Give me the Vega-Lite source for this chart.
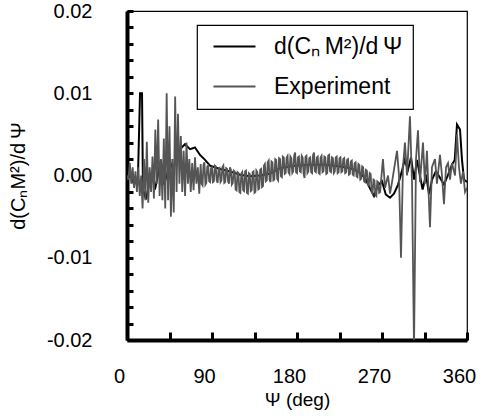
{
  "$schema": "https://vega.github.io/schema/vega-lite/v6.json",
  "width": 340,
  "height": 329,
  "autosize": "none",
  "padding": {"left": 127, "top": 11, "right": 19, "bottom": 76},
  "background": "white",
  "config": {
    "font": "Liberation Sans",
    "view": {"stroke": "black", "strokeWidth": 1.2},
    "axis": {"grid": false, "domainColor": "black", "tickColor": "black", "labelColor": "black", "titleColor": "black", "labelFont": "Liberation Sans", "titleFont": "Liberation Sans", "titleFontWeight": "normal", "labelFlush": false}
  },
  "datasets": {
    "M": [
      {"x": 0, "y": -0.0005}, {"x": 3.2, "y": 0.0005}, {"x": 7.4, "y": -0.0011}, {"x": 11.6, "y": -0.0002},
      {"x": 13.8, "y": 0.0100}, {"x": 15.9, "y": 0.0100}, {"x": 16.9, "y": -0.0017}, {"x": 20.1, "y": -0.0029},
      {"x": 23.3, "y": -0.0011}, {"x": 26.5, "y": 0.0005}, {"x": 29.6, "y": -0.0017}, {"x": 32.8, "y": 0.0001},
      {"x": 36, "y": 0.0019}, {"x": 39.2, "y": -0.0011}, {"x": 42.4, "y": 0.0001}, {"x": 45.5, "y": 0.0017},
      {"x": 48.7, "y": 0.0007}, {"x": 51.9, "y": 0.0019}, {"x": 56.1, "y": 0.0032}, {"x": 61.4, "y": 0.0038},
      {"x": 66.7, "y": 0.0032}, {"x": 72, "y": 0.0034}, {"x": 77.3, "y": 0.0025}, {"x": 82.6, "y": 0.0019},
      {"x": 87.9, "y": 0.0012}, {"x": 98.5, "y": 0.0008}, {"x": 109, "y": 0.0005}, {"x": 119.6, "y": 0.0001},
      {"x": 130, "y": -0.0001}, {"x": 141, "y": 0.0}, {"x": 151, "y": 0.0002}, {"x": 162, "y": 0.0009},
      {"x": 178, "y": 0.0012}, {"x": 194, "y": 0.0013}, {"x": 210, "y": 0.0013}, {"x": 225.5, "y": 0.0011},
      {"x": 236, "y": 0.0009}, {"x": 244.6, "y": 0.0005}, {"x": 252, "y": -0.0003}, {"x": 257, "y": -0.0015},
      {"x": 261.5, "y": -0.0025}, {"x": 265.8, "y": -0.0012}, {"x": 270, "y": -0.0007}, {"x": 274, "y": -0.0023},
      {"x": 278.5, "y": -0.0027}, {"x": 282.7, "y": -0.0022}, {"x": 287, "y": -0.0011}, {"x": 291, "y": 0.0005},
      {"x": 294, "y": 0.0019}, {"x": 297.5, "y": 0.0007}, {"x": 300.7, "y": 0.0022}, {"x": 304, "y": -0.0005},
      {"x": 307, "y": 0.0019}, {"x": 310, "y": 0.0001}, {"x": 313, "y": -0.0017}, {"x": 316.6, "y": 0.0001},
      {"x": 319.8, "y": -0.0023}, {"x": 323, "y": -0.0005}, {"x": 327, "y": 0.0005}, {"x": 331, "y": -0.0002},
      {"x": 335.6, "y": -0.0011}, {"x": 340, "y": 0.0001}, {"x": 344, "y": 0.0013}, {"x": 347, "y": 0.0019},
      {"x": 349.4, "y": 0.0062}, {"x": 352.6, "y": 0.0056}, {"x": 354.7, "y": 0.0019}, {"x": 356.8, "y": -0.0005},
      {"x": 360, "y": -0.0008}
    ],
    "E": [
      {"x": 0, "y": 0.0}, {"x": 1.5, "y": -0.0005}, {"x": 3, "y": 0.0015}, {"x": 4.5, "y": -0.001},
      {"x": 6, "y": 0.001}, {"x": 7.5, "y": -0.0015}, {"x": 9, "y": 0.0005}, {"x": 10.5, "y": -0.002},
      {"x": 12, "y": 0.001}, {"x": 13.5, "y": -0.0025}, {"x": 15, "y": 0.0}, {"x": 16.5, "y": -0.004},
      {"x": 18, "y": 0.002}, {"x": 19.5, "y": -0.003}, {"x": 21, "y": 0.0041}, {"x": 22.5, "y": -0.0033},
      {"x": 24, "y": 0.001}, {"x": 25.5, "y": -0.002}, {"x": 27, "y": 0.0023}, {"x": 28.5, "y": -0.0028},
      {"x": 30, "y": 0.0056}, {"x": 31.5, "y": -0.001}, {"x": 33, "y": 0.0068}, {"x": 34.5, "y": -0.0025},
      {"x": 36, "y": 0.002}, {"x": 37.5, "y": -0.003}, {"x": 39, "y": 0.0045}, {"x": 40.5, "y": -0.004},
      {"x": 42, "y": 0.010}, {"x": 43.5, "y": -0.003}, {"x": 45, "y": 0.006}, {"x": 46.5, "y": -0.005},
      {"x": 48, "y": 0.002}, {"x": 49.5, "y": -0.0045}, {"x": 51, "y": 0.0096}, {"x": 52.5, "y": -0.002},
      {"x": 54, "y": 0.0075}, {"x": 55.5, "y": -0.001}, {"x": 57, "y": 0.0048}, {"x": 58.5, "y": -0.002},
      {"x": 60, "y": 0.003}, {"x": 61.5, "y": -0.0025}, {"x": 63, "y": 0.004}, {"x": 64.5, "y": -0.001},
      {"x": 66, "y": 0.002}, {"x": 67.5, "y": -0.002}, {"x": 69, "y": 0.0015}, {"x": 70.5, "y": -0.0018},
      {"x": 72, "y": 0.0022}, {"x": 73.5, "y": -0.001}, {"x": 75, "y": 0.001}, {"x": 76.5, "y": -0.0022},
      {"x": 78, "y": 0.0014}, {"x": 79, "y": -0.0010}, {"x": 80, "y": -0.0012}, {"x": 81, "y": 0.0013},
      {"x": 82, "y": 0.0016}, {"x": 83, "y": -0.0011}, {"x": 84, "y": -0.0009}, {"x": 85, "y": 0.0011},
      {"x": 86, "y": 0.0012}, {"x": 87, "y": -0.0007}, {"x": 88, "y": -0.0008}, {"x": 89, "y": 0.0009},
      {"x": 90, "y": 0.0010}, {"x": 91, "y": -0.0008}, {"x": 92, "y": -0.0007}, {"x": 93, "y": 0.0012},
      {"x": 94, "y": 0.0011}, {"x": 95, "y": -0.0006}, {"x": 96, "y": -0.0009}, {"x": 97, "y": 0.0008},
      {"x": 98, "y": 0.0009}, {"x": 99, "y": -0.0008}, {"x": 100, "y": -0.0006}, {"x": 101, "y": 0.0010},
      {"x": 102, "y": 0.0012}, {"x": 103, "y": -0.0009}, {"x": 104, "y": -0.0008}, {"x": 105, "y": 0.0009},
      {"x": 106, "y": 0.0008}, {"x": 107, "y": -0.0007}, {"x": 108, "y": -0.0010}, {"x": 109, "y": 0.0010},
      {"x": 110, "y": 0.0007}, {"x": 111, "y": -0.0011}, {"x": 112, "y": -0.0009}, {"x": 113, "y": 0.0006},
      {"x": 114, "y": 0.0005}, {"x": 115, "y": -0.0017}, {"x": 116, "y": -0.0018}, {"x": 117, "y": 0.0004},
      {"x": 118, "y": 0.0003}, {"x": 119, "y": -0.0020}, {"x": 120, "y": -0.0021}, {"x": 121, "y": 0.0002},
      {"x": 122, "y": 0.0004}, {"x": 123, "y": -0.0018}, {"x": 124, "y": -0.0019}, {"x": 125, "y": 0.0005},
      {"x": 126, "y": 0.0006}, {"x": 127, "y": -0.0021}, {"x": 128, "y": -0.0022}, {"x": 129, "y": 0.0003},
      {"x": 130, "y": 0.0002}, {"x": 131, "y": -0.0019}, {"x": 132, "y": -0.0018}, {"x": 133, "y": 0.0004},
      {"x": 134, "y": 0.0005}, {"x": 135, "y": -0.0021}, {"x": 136, "y": -0.0020}, {"x": 137, "y": 0.0006},
      {"x": 138, "y": 0.0004}, {"x": 139, "y": -0.0017}, {"x": 140, "y": -0.0016}, {"x": 141, "y": 0.0007},
      {"x": 142, "y": 0.0008}, {"x": 143, "y": -0.0014}, {"x": 144, "y": -0.0013}, {"x": 145, "y": 0.0012},
      {"x": 146, "y": 0.0014}, {"x": 147, "y": -0.0007}, {"x": 148, "y": -0.0006}, {"x": 149, "y": 0.0016},
      {"x": 150, "y": 0.0018}, {"x": 151, "y": -0.0005}, {"x": 152, "y": -0.0008}, {"x": 153, "y": 0.0017},
      {"x": 154, "y": 0.0016}, {"x": 155, "y": -0.0006}, {"x": 156, "y": -0.0005}, {"x": 157, "y": 0.0020},
      {"x": 158, "y": 0.0019}, {"x": 159, "y": -0.0004}, {"x": 160, "y": -0.0006}, {"x": 161, "y": 0.0021},
      {"x": 162, "y": 0.0020}, {"x": 163, "y": -0.0001}, {"x": 164, "y": -0.0002}, {"x": 165, "y": 0.0023},
      {"x": 166, "y": 0.0022}, {"x": 167, "y": 0.0002}, {"x": 168, "y": 0.0003}, {"x": 169, "y": 0.0022},
      {"x": 170, "y": 0.0024}, {"x": 171, "y": 0.0004}, {"x": 172, "y": 0.0002}, {"x": 173, "y": 0.0023},
      {"x": 174, "y": 0.0021}, {"x": 175, "y": 0.0003}, {"x": 176, "y": 0.0005}, {"x": 177, "y": 0.0024},
      {"x": 178, "y": 0.0028}, {"x": 179, "y": 0.0004}, {"x": 180, "y": 0.0003}, {"x": 181, "y": 0.0022},
      {"x": 182, "y": 0.0023}, {"x": 183, "y": 0.0005}, {"x": 184, "y": 0.0004}, {"x": 185, "y": 0.0024},
      {"x": 186, "y": 0.0022}, {"x": 187, "y": 0.0002}, {"x": 188, "y": -0.0003}, {"x": 189, "y": 0.0023},
      {"x": 190, "y": 0.0024}, {"x": 191, "y": 0.0003}, {"x": 192, "y": 0.0005}, {"x": 193, "y": 0.0021},
      {"x": 194, "y": 0.0022}, {"x": 195, "y": 0.0004}, {"x": 196, "y": 0.0003}, {"x": 197, "y": 0.0025},
      {"x": 198, "y": 0.0028}, {"x": 199, "y": 0.0005}, {"x": 200, "y": 0.0004}, {"x": 201, "y": 0.0022},
      {"x": 202, "y": 0.0023}, {"x": 203, "y": 0.0003}, {"x": 204, "y": 0.0002}, {"x": 205, "y": 0.0022},
      {"x": 206, "y": 0.0024}, {"x": 207, "y": 0.0004}, {"x": 208, "y": 0.0005}, {"x": 209, "y": 0.0023},
      {"x": 210, "y": 0.0022}, {"x": 211, "y": 0.0002}, {"x": 212, "y": 0.0003}, {"x": 213, "y": 0.0024},
      {"x": 214, "y": 0.0025}, {"x": 215, "y": 0.0005}, {"x": 216, "y": 0.0004}, {"x": 217, "y": 0.0022},
      {"x": 218, "y": 0.0021}, {"x": 219, "y": 0.0003}, {"x": 220, "y": 0.0005}, {"x": 221, "y": 0.0022},
      {"x": 222, "y": 0.0023}, {"x": 223, "y": 0.0003}, {"x": 224, "y": 0.0004}, {"x": 225, "y": 0.0021},
      {"x": 226, "y": 0.0022}, {"x": 227, "y": 0.0004}, {"x": 228, "y": 0.0005}, {"x": 229, "y": 0.0020},
      {"x": 230, "y": 0.0021}, {"x": 231, "y": 0.0003}, {"x": 232, "y": 0.0004}, {"x": 233, "y": 0.0019},
      {"x": 234, "y": 0.0020}, {"x": 235, "y": 0.0001}, {"x": 236, "y": 0.0002}, {"x": 237, "y": 0.0017},
      {"x": 238, "y": 0.0018}, {"x": 239, "y": 0.0001}, {"x": 240, "y": 0.0000}, {"x": 241, "y": 0.0015},
      {"x": 242, "y": 0.0016}, {"x": 243, "y": -0.0001}, {"x": 244, "y": -0.0002}, {"x": 245, "y": 0.0014},
      {"x": 246, "y": 0.0013}, {"x": 247, "y": -0.0005}, {"x": 248, "y": -0.0004}, {"x": 249, "y": 0.0011},
      {"x": 250, "y": 0.0010}, {"x": 251, "y": -0.0007}, {"x": 252, "y": -0.0008}, {"x": 253, "y": 0.0007},
      {"x": 254, "y": 0.0006}, {"x": 255, "y": -0.0011}, {"x": 256, "y": -0.0012}, {"x": 257, "y": 0.0003},
      {"x": 258, "y": 0.0002}, {"x": 259, "y": -0.0020}, {"x": 260, "y": -0.0022}, {"x": 261, "y": -0.0005},
      {"x": 262, "y": -0.0006}, {"x": 263, "y": -0.0024}, {"x": 264, "y": -0.0025}, {"x": 265, "y": -0.0007},
      {"x": 266, "y": -0.0008}, {"x": 267, "y": -0.0021}, {"x": 268, "y": -0.0020},
      {"x": 271, "y": 0.0020}, {"x": 273.2, "y": -0.0015}, {"x": 276.4, "y": 0.0}, {"x": 278.5, "y": -0.0022},
      {"x": 280.6, "y": -0.0008}, {"x": 283.8, "y": 0.0015}, {"x": 285.9, "y": 0.0030}, {"x": 288, "y": 0.0},
      {"x": 290.1, "y": -0.0100}, {"x": 292.2, "y": 0.0010}, {"x": 294.3, "y": 0.0040}, {"x": 296.5, "y": 0.0},
      {"x": 299.6, "y": 0.0072}, {"x": 301.8, "y": -0.0010}, {"x": 303.9, "y": -0.0210}, {"x": 306, "y": 0.0020},
      {"x": 308.1, "y": 0.0055}, {"x": 310.2, "y": -0.0008}, {"x": 313.4, "y": 0.0040}, {"x": 315.5, "y": -0.0010},
      {"x": 317.6, "y": 0.0030}, {"x": 320.8, "y": -0.0063}, {"x": 322.9, "y": 0.0010}, {"x": 326.1, "y": 0.0020},
      {"x": 328.2, "y": -0.0010}, {"x": 331.4, "y": 0.0025}, {"x": 333.5, "y": 0.0}, {"x": 335.6, "y": -0.0035},
      {"x": 337.8, "y": 0.0010}, {"x": 339.9, "y": 0.0015}, {"x": 342, "y": -0.0005}, {"x": 344.1, "y": 0.0015},
      {"x": 347.3, "y": 0.0}, {"x": 349.4, "y": 0.0050}, {"x": 351.5, "y": 0.0010}, {"x": 353.6, "y": -0.0010},
      {"x": 355.8, "y": 0.0005}, {"x": 357.9, "y": -0.0020}, {"x": 360, "y": -0.0015}
    ]
  },
  "encoding": {
    "x": {
      "field": "x", "type": "quantitative",
      "scale": {"domain": [0, 360], "nice": false, "zero": false},
      "axis": {
        "title": "Ψ (deg)", "titleFontSize": 19, "titlePadding": 4,
        "values": [0, 45, 90, 135, 180, 225, 270, 315, 360],
        "labelExpr": "datum.value % 90 == 0 ? datum.label : ''",
        "labelFontSize": 20, "labelOffset": -8, "labelPadding": 34,
        "tickSize": -8, "tickWidth": 3, "domainWidth": 4
      }
    },
    "y": {
      "field": "y", "type": "quantitative",
      "scale": {"domain": [-0.02, 0.02], "nice": false, "zero": false},
      "axis": {
        "title": "d(CₙM²)/d\u2009Ψ", "titleFontSize": 20, "titlePadding": 18,
        "values": [-0.02, -0.018, -0.016, -0.014, -0.012, -0.01, -0.008, -0.006, -0.004, -0.002, 0, 0.002, 0.004, 0.006, 0.008, 0.01, 0.012, 0.014, 0.016, 0.018, 0.02],
        "labelExpr": "abs(datum.value * 100 - round(datum.value * 100)) < 0.000001 ? (datum.value < 0 ? '-' + format(abs(datum.value), '.2f') : format(datum.value, '.2f')) : ''",
        "labelFontSize": 20, "labelPadding": 41,
        "tickSize": -6, "tickWidth": 3, "domainWidth": 4
      }
    },
    "color": {
      "field": "k", "type": "nominal",
      "scale": {"domain": ["M", "E"], "range": ["#000000", "#555555"]},
      "legend": {
        "orient": "none", "legendX": 70, "legendY": 14, "title": null,
        "strokeColor": "black", "fillColor": "white",
        "padding": 10, "rowPadding": 16,
        "symbolType": "M-2.5,0H2.5", "symbolSize": 282, "symbolStrokeWidth": 2, "symbolOffset": 16,
        "labelFontSize": 23, "labelOffset": 28, "labelLimit": 400, "labelAlign": "left",
        "labelExpr": "datum.value == 'M' ? 'd(Cₙ\u2009M²)/d\u2009Ψ\u00a0\u00a0\u00a0\u2009' : 'Experiment'",
        "encode": {"legend": {"update": {"strokeWidth": {"value": 1.2}}}}
      }
    }
  },
  "layer": [
    {
      "data": {"name": "M"},
      "transform": [{"calculate": "'M'", "as": "k"}],
      "mark": {"type": "line", "strokeWidth": 2, "clip": true, "interpolate": "linear"}
    },
    {
      "data": {"name": "E"},
      "transform": [{"calculate": "'E'", "as": "k"}],
      "mark": {"type": "line", "strokeWidth": 1.8, "clip": true, "interpolate": "linear"}
    }
  ]
}
